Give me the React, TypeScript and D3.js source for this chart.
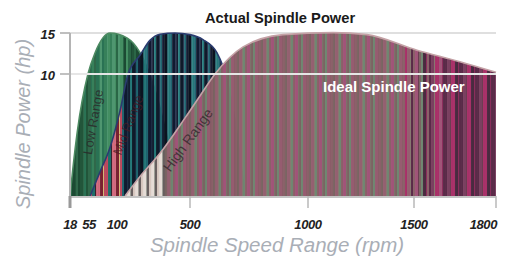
import React from 'react';
import * as d3 from 'd3';

const W = 509;
const H = 258;

// spindle power curves (rpm, hp)
const lowRpm = [18, 24, 32, 53, 66, 93, 168, 237, 316, 395, 447];
const lowHp = [0, 2.4, 5.2, 10, 12.6, 15, 14.4, 12.6, 8.7, 3.8, 0];
const midRpm = [57, 75, 93, 132, 174, 237, 289, 342, 421, 500, 555, 614, 640, 691, 733];
const midHp = [0, 2, 4, 7, 10, 12.3, 14.1, 14.85, 15, 14.8, 14.2, 12.6, 10.9, 6.2, 0];
const highRpm = [158, 237, 342, 474, 542, 606, 725, 894, 1118, 1278, 1511, 1668, 1800];
const highHp = [0, 1.6, 3.5, 6.4, 8.2, 10, 13.3, 14.8, 15.05, 14.8, 12.9, 11.5, 10.2];

const xTicks = [18, 500, 1000, 1500, 1800];
const xLabels = [18, 55, 100, 500, 1000, 1500, 1800];
const yTicks = [10, 15];

// stripe palettes (texture only)
const lowPalette = ['#2a6646', '#37805a', '#22553a', '#448e62', '#2a7254', '#1c4a33', '#4f9670', '#30684a'];
const warmPalette = ['#c2465e', '#e8c27a', '#7a2030', '#d86a80', '#3a1a28', '#1e6e6a'];
const midPalette = ['#141c33', '#1a5560', '#0f1a2a', '#1f6470', '#1b2745', '#0b1320', '#24787a', '#182440', '#101a30'];
const greyPalette = ['#d8c8c0', '#6a6060', '#e0508a', '#a0a098', '#c06080', '#e6dcd6', '#4a4648'];
const highPalette = ['#8a6068', '#7a7068', '#946070', '#6f8670', '#8a5a66', '#a05478', '#7a6462', '#86766e', '#965c70'];
const darkPalette = ['#5a2a48', '#8a2a5a', '#4a2a40', '#a83068', '#6a3a50', '#7a4060'];

const x = d3.scaleLinear()
  .domain([18, 55, 100, 500, 1000, 1500, 1800])
  .range([70, 89, 114, 190, 308, 414, 496]);
const y = d3.scaleLinear().domain([0, 10, 15]).range([196, 74, 33]);

const area = d3.area<[number, number]>()
  .x(d => x(d[0]))
  .y0(y(0))
  .y1(d => y(d[1]))
  .curve(d3.curveMonotoneX);
const line = d3.line<[number, number]>()
  .x(d => x(d[0]))
  .y(d => y(d[1]))
  .curve(d3.curveMonotoneX);

const widths = [2, 3, 1, 2, 2, 3, 1, 2];

function stripes(x0: number, x1: number, pick: (px: number, i: number) => string) {
  const out: { x: number; w: number; c: string }[] = [];
  let px = x0;
  let i = 0;
  while (px < x1) {
    const w = widths[i % widths.length];
    out.push({ x: px, w, c: pick(px, i) });
    px += w;
    i++;
  }
  return out;
}

const cyc = (p: string[], i: number) => p[(i * 5 + Math.floor(i / 4)) % p.length];

// fade from the mauve palette into the darker one towards 1800 rpm
const darkShare = d3.scaleLinear().domain([x(1400), x(1650)]).range([0, 1]).clamp(true);

const series = [
  {
    id: 'low', rpm: lowRpm, hp: lowHp, stroke: '#4d8a62',
    pick: (px: number, i: number) => cyc(lowPalette, i),
  },
  {
    id: 'mid', rpm: midRpm, hp: midHp, stroke: '#2b3c70',
    pick: (px: number, i: number) => (px < 121 ? cyc(warmPalette, i) : cyc(midPalette, i)),
  },
  {
    id: 'high', rpm: highRpm, hp: highHp, stroke: '#c4a2a6',
    pick: (px: number, i: number) =>
      px < 165 ? cyc(greyPalette, i)
        : ((i * 7) % 10) / 10 < darkShare(px) ? cyc(darkPalette, i) : cyc(highPalette, i),
  },
];

const font = '"Liberation Sans", Arial, Helvetica, sans-serif';

export default function App() {
  return (
    <svg width={W} height={H} style={{ position: 'fixed', left: 0, top: 0, background: '#fff' }} fontFamily={font}>
      <defs>
        {series.map(s => (
          <clipPath id={`clip-${s.id}`} key={s.id}>
            <path d={area(s.rpm.map((r, i) => [r, s.hp[i]] as [number, number])) || ''} />
          </clipPath>
        ))}
      </defs>

      {/* 15 hp grid line */}
      <line x1={60} x2={x(1800)} y1={y(15)} y2={y(15)} stroke="#d4d4d4" strokeWidth={1.5} />

      {series.map(s => {
        const pts = s.rpm.map((r, i) => [r, s.hp[i]] as [number, number]);
        const x0 = x(s.rpm[0]);
        const x1 = x(s.rpm[s.rpm.length - 1]);
        return (
          <g key={s.id}>
            <g clipPath={`url(#clip-${s.id})`}>
              {stripes(x0, x1 + 1, s.pick).map((st, i) => (
                <rect key={i} x={st.x} y={y(15.5)} width={st.w} height={y(0) - y(15.5)} fill={st.c} />
              ))}
            </g>
            <path d={line(pts) || ''} fill="none" stroke={s.stroke} strokeWidth={1.6} />
          </g>
        );
      })}

      {/* 10 hp ideal line */}
      <line x1={60} x2={x(1800)} y1={y(10)} y2={y(10)} stroke="#e6e6e6" strokeWidth={2} />

      {/* axes */}
      <line x1={x(18)} x2={x(18)} y1={y(15)} y2={y(0) + 1} stroke="#b4b4b4" strokeWidth={2} />
      <line x1={x(18)} x2={x(1800)} y1={y(0) + 1} y2={y(0) + 1} stroke="#c4c4c4" strokeWidth={2} />
      {yTicks.map(v => (
        <g key={v}>
          <line x1={60} x2={x(18)} y1={y(v)} y2={y(v)} stroke="#b4b4b4" strokeWidth={1.5} />
          <text x={55} y={y(v) + 6} textAnchor="end" fontSize={13} fontStyle="italic" fontWeight="bold" fill="#222">{v}</text>
        </g>
      ))}
      {xTicks.map((v, i) => (
        <line key={v} x1={x(v)} x2={x(v)} y1={y(0)} y2={y(0) + 12} stroke={i === 0 ? '#999' : '#b8b8b8'} strokeWidth={i === 0 ? 3 : 1.5} />
      ))}
      {xLabels.map(v => (
        <text key={v} x={x(v) + (v === 1800 ? 1 : v === 100 ? 3 : 0)} y={229}
          textAnchor={v === 1800 ? 'end' : 'middle'} fontSize={13} fontStyle="italic" fontWeight="bold" fill="#222" letterSpacing={-0.4}>{v}</text>
      ))}

      {/* range labels */}
      <text transform="translate(93,122) rotate(-80)" textAnchor="middle" dy="0.35em" fontSize={13} fill="#2a2a2a" fillOpacity={0.85}>Low Range</text>
      <text transform="translate(128,125) rotate(-69)" textAnchor="middle" dy="0.35em" fontSize={13} fill="#4a1a24" fillOpacity={0.75}>Mid Range</text>
      <text transform="translate(188,140) rotate(-54)" textAnchor="middle" dy="0.35em" fontSize={14} fill="#3a2a30" fillOpacity={0.85}>High Range</text>

      {/* annotations */}
      <text x={205} y={23} fontSize={14.7} fontWeight="bold" fill="#1a1a1a">Actual Spindle Power</text>
      <text x={323} y={92} fontSize={15} fontWeight="bold" fill="#fff">Ideal Spindle Power</text>

      {/* axis titles */}
      <text transform="translate(30,124) rotate(-90)" textAnchor="middle" fontSize={20} fontStyle="italic" fill="#a9aeb6">Spindle Power (hp)</text>
      <text x={277} y={252} textAnchor="middle" fontSize={20.5} fontStyle="italic" fill="#a9aeb6">Spindle Speed Range (rpm)</text>
    </svg>
  );
}
